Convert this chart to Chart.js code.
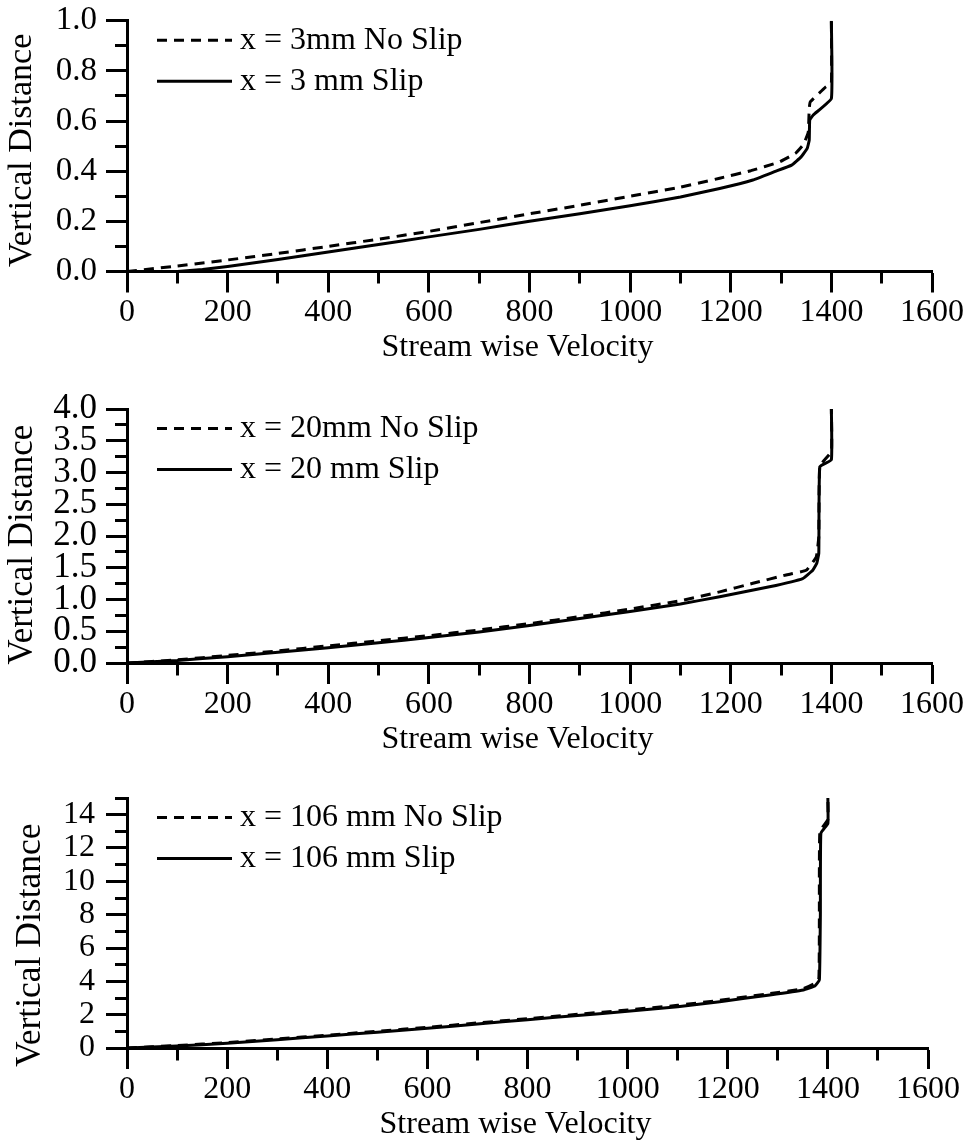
<!DOCTYPE html>
<html>
<head>
<meta charset="utf-8">
<script src="https://cdn.jsdelivr.net/npm/chart.js@4.4.0/dist/chart.umd.min.js"></script>
<style>
html,body{margin:0;padding:0;background:#fff;overflow:hidden;}
.box{position:absolute;left:0;width:975px;height:391px;}
canvas{display:block;}
</style>
</head>
<body>
<div class="box" style="top:-10px"><canvas id="c1" width="975" height="391"></canvas></div>
<div class="box" style="top:371px"><canvas id="c2" width="975" height="391"></canvas></div>
<div class="box" style="top:752px"><canvas id="c3" width="975" height="391"></canvas></div>
<script>
// ---------- tick labels ----------
const xTickLabels = ['0','200','400','600','800','1000','1200','1400','1600'];
const yTickLabels1 = ['0.0','0.2','0.4','0.6','0.8','1.0'];
const yTickLabels2 = ['0.0','0.5','1.0','1.5','2.0','2.5','3.0','3.5','4.0'];
const yTickLabels3 = ['0','2','4','6','8','10','12','14'];

// ---------- legend labels ----------
const labels1 = ['x = 3mm No Slip', 'x = 3 mm Slip'];
const labels2 = ['x = 20mm No Slip', 'x = 20 mm Slip'];
const labels3 = ['x = 106 mm No Slip', 'x = 106 mm Slip'];

// ---------- chart 1 : x = 3 mm ----------
const vel3NoSlip  = [0, 100, 200, 300, 400, 500, 600, 700, 800, 900, 1000, 1100, 1178, 1240, 1296, 1329, 1345, 1354, 1356, 1358, 1389, 1400, 1400];
const dist3NoSlip = [0, 0.022, 0.046, 0.072, 0.1, 0.129, 0.16, 0.195, 0.23, 0.264, 0.3, 0.336, 0.372, 0.402, 0.436, 0.472, 0.508, 0.555, 0.65, 0.676, 0.736, 0.75, 1.0];
const vel3Slip    = [100, 150, 200, 300, 400, 500, 600, 700, 800, 900, 1000, 1100, 1178, 1244, 1287, 1321, 1340, 1352, 1356, 1357, 1364, 1400, 1400];
const dist3Slip   = [0, 0.008, 0.02, 0.048, 0.078, 0.108, 0.138, 0.168, 0.2, 0.23, 0.262, 0.297, 0.331, 0.365, 0.398, 0.424, 0.457, 0.491, 0.524, 0.604, 0.624, 0.69, 1.0];

// ---------- chart 2 : x = 20 mm ----------
const vel20NoSlip  = [0, 100, 200, 300, 400, 500, 600, 700, 800, 900, 1000, 1100, 1178, 1244, 1310, 1350, 1370, 1375, 1377, 1400, 1400];
const dist20NoSlip = [0, 0.05, 0.12, 0.19, 0.27, 0.35, 0.43, 0.52, 0.62, 0.73, 0.85, 0.98, 1.12, 1.255, 1.386, 1.46, 1.67, 1.99, 3.1, 3.33, 4.0];
const vel20Slip    = [0, 100, 200, 300, 400, 500, 600, 700, 800, 900, 1000, 1100, 1178, 1277, 1343, 1363, 1371, 1375, 1377, 1400, 1400];
const dist20Slip   = [0, 0.04, 0.1, 0.17, 0.24, 0.32, 0.4, 0.49, 0.59, 0.7, 0.81, 0.93, 1.044, 1.2, 1.33, 1.46, 1.57, 1.73, 3.09, 3.2, 4.0];

// ---------- chart 3 : x = 106 mm ----------
const vel106NoSlip  = [0, 100, 200, 300, 400, 500, 600, 700, 800, 900, 1000, 1100, 1184, 1284, 1351, 1372, 1382, 1383, 1384, 1400, 1400];
const dist106NoSlip = [0, 0.15, 0.32, 0.55, 0.77, 1.0, 1.24, 1.5, 1.76, 2.02, 2.28, 2.56, 2.86, 3.26, 3.56, 3.85, 4.2, 8.0, 13.0, 13.7, 15.0];
const vel106Slip    = [0, 100, 200, 300, 400, 500, 600, 700, 800, 900, 1000, 1100, 1184, 1284, 1351, 1374, 1383, 1385, 1386, 1400, 1400];
const dist106Slip   = [0, 0.12, 0.28, 0.5, 0.72, 0.95, 1.18, 1.44, 1.7, 1.95, 2.2, 2.48, 2.78, 3.18, 3.48, 3.72, 4.08, 8.0, 12.88, 13.48, 15.0];

// ---------- styling ----------
const FONT = "'Liberation Serif', 'Times New Roman', serif";
const TL = 21, MINOR = 10.5, AX = 3;
const DASH = [10, 7];

function pts(vs, ds) { return vs.map((v, i) => ({x: v, y: ds[i]})); }

function scaleOpts(o) {
  const majors = o.labels.map(Number);
  const isMajor = v => majors.some(m => Math.abs(m - v) < 1e-6);
  return {
    type: 'linear', position: o.pos, min: o.min, max: o.max,
    afterFit: s => { if (o.pos === 'left') s.width = o.size; else s.height = o.size; },
    ticks: {
      stepSize: o.step, autoSkip: false, maxRotation: 0, minRotation: 0,
      padding: o.pad, color: '#000', font: {family: FONT, size: o.fs},
      callback: v => { const i = majors.findIndex(m => Math.abs(m - v) < 1e-6); return i >= 0 ? o.labels[i] : ''; }
    },
    grid: {
      drawOnChartArea: false, drawTicks: true, tickLength: TL, tickWidth: AX, tickColor: '#000',
      tickBorderDash: c => (c.tick && isMajor(c.tick.value)) ? [] :
        (o.pos === 'left' ? [20, TL - AX / 2 - MINOR] : [MINOR, 40]),
      tickBorderDashOffset: c => (c.tick && isMajor(c.tick.value)) ? 0 : (o.pos === 'left' ? 20 : 0)
    },
    border: {display: true, width: AX, color: '#000'},
    title: {display: true, text: o.title, color: '#000', font: {family: FONT, size: o.tfs}, padding: o.tpad}
  };
}

const legendPlugin = {
  id: 'inLegend',
  afterDatasetsDraw(chart) {
    const ctx = chart.ctx, a = chart.chartArea;
    ctx.save();
    chart.data.datasets.forEach((ds, i) => {
      const y = a.top + 19.5 + i * 41;
      ctx.beginPath();
      ctx.setLineDash(ds.borderDash || []);
      ctx.lineWidth = 3; ctx.strokeStyle = '#000';
      ctx.moveTo(157, y); ctx.lineTo(232, y); ctx.stroke();
      ctx.setLineDash([]);
      ctx.font = '32px ' + FONT; ctx.fillStyle = '#000';
      ctx.textBaseline = 'middle'; ctx.textAlign = 'left';
      ctx.fillText(ds.label, 240, y);
    });
    ctx.restore();
  }
};

function makeChart(id, c) {
  new Chart(document.getElementById(id), {
    type: 'scatter',
    data: {
      datasets: [
        {label: c.labels[0], data: pts(c.v0, c.d0), showLine: true, borderColor: '#000', borderWidth: 3,
         borderDash: DASH, pointRadius: 0, tension: 0.1, borderJoinStyle: 'round', fill: false},
        {label: c.labels[1], data: pts(c.v1, c.d1), showLine: true, borderColor: '#000', borderWidth: 3,
         pointRadius: 0, tension: 0.1, borderJoinStyle: 'round', fill: false}
      ]
    },
    options: {
      responsive: false, animation: false, devicePixelRatio: 1,
      layout: {autoPadding: false, padding: c.padding},
      plugins: {legend: {display: false}, tooltip: {enabled: false}},
      scales: {
        x: scaleOpts({pos: 'bottom', min: 0, max: 1600, step: 100, labels: xTickLabels, size: 93.7,
                      pad: 1, fs: 32, title: 'Stream wise Velocity   ', tfs: 32, tpad: {top: 0, bottom: -2}}),
        y: scaleOpts({pos: 'left', min: c.ymin, max: c.ymax, step: c.ystep, labels: c.ylabels, size: 127,
                      pad: c.ypad, fs: c.yfs, title: c.ytitle, tfs: c.ytfs, tpad: {top: c.ytpad, bottom: 0}})
      }
    },
    plugins: [legendPlugin]
  });
}

makeChart('c1', {labels: labels1, v0: vel3NoSlip, d0: dist3NoSlip, v1: vel3Slip, d1: dist3Slip,
  padding: {top: 30.7, right: 43, bottom: 15.8, left: 0},
  ymin: 0, ymax: 1, ystep: 0.1, ylabels: yTickLabels1, ypad: 9, yfs: 33,
  ytitle: 'Vertical Distance ', ytfs: 34, ytpad: 2});

makeChart('c2', {labels: labels2, v0: vel20NoSlip, d0: dist20NoSlip, v1: vel20Slip, d1: dist20Slip,
  padding: {top: 38, right: 43, bottom: 5.3, left: 0},
  ymin: 0, ymax: 4, ystep: 0.25, ylabels: yTickLabels2, ypad: 9, yfs: 35,
  ytitle: 'Vertical Distance  ', ytfs: 35, ytpad: 1.5});

makeChart('c3', {labels: labels3, v0: vel106NoSlip, d0: dist106NoSlip, v1: vel106Slip, d1: dist106Slip,
  padding: {top: 46, right: 47, bottom: 1.3, left: 0},
  ymin: 0, ymax: 15, ystep: 1, ylabels: yTickLabels3, ypad: 11, yfs: 32,
  ytitle: 'Vertical Distance     ', ytfs: 35.5, ytpad: 9.7});
</script>
</body>
</html>
